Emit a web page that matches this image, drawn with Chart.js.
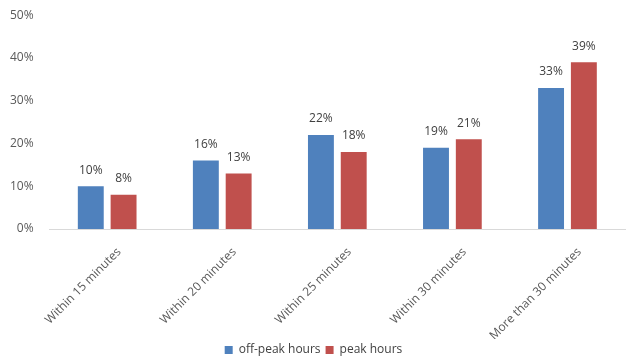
<!DOCTYPE html>
<html><head><meta charset="utf-8">
<script src="https://cdn.jsdelivr.net/npm/chart.js@4/dist/chart.umd.min.js"></script>
<style>html,body{margin:0;padding:0;background:#fff}#w{width:630px;height:358px}</style>
</head><body><div id="w"><canvas id="c"></canvas></div>
<script>
const categories = ["Within 15 minutes","Within 20 minutes","Within 25 minutes","Within 30 minutes","More than 30 minutes"];
const offPeak = [10,16,22,19,33];
const peak = [8,13,18,21,39];
const seriesNames = ["off-peak hours","peak hours"];
const yTicks = [0,10,20,30,40,50];

const labelsPlugin = {
  id:'vals',
  afterDatasetsDraw(chart){
    const ctx = chart.ctx;
    ctx.save();
    ctx.font = '12px "Open Sans", sans-serif';
    ctx.fillStyle = '#404040';
    ctx.textAlign = 'center';
    ctx.textBaseline = 'bottom';
    chart.data.datasets.forEach((ds,i)=>{
      chart.getDatasetMeta(i).data.forEach((bar,j)=>{
        ctx.fillText(ds.data[j]+'%', bar.x, bar.y-10);
      });
    });
    ctx.restore();
  }
};

new Chart(document.getElementById('c'),{
  type:'bar',
  data:{labels:categories,datasets:[
    {label:seriesNames[0],data:offPeak,backgroundColor:'#4F81BD',borderWidth:0},
    {label:seriesNames[1],data:peak,backgroundColor:'#C0504D',borderWidth:0}
  ]},
  options:{
    responsive:true,maintainAspectRatio:false,animation:false,
    layout:{padding:{top:8,right:5,left:2,bottom:-8}},
    categoryPercentage:0.57,barPercentage:0.79,
    plugins:{
      legend:{position:'bottom',labels:{boxWidth:8,boxHeight:8,padding:5,color:'#404040',font:{family:'"Open Sans", sans-serif',size:12}}},
      tooltip:{enabled:false}
    },
    scales:{
      y:{min:0,max:50,afterBuildTicks(s){s.ticks=yTicks.map(v=>({value:v}));},
        grid:{display:false},border:{display:false},
        ticks:{color:'#595959',padding:8,font:{family:'"Open Sans", sans-serif',size:12},callback:v=>v+'%'}},
      x:{grid:{display:false},border:{display:true,color:'#D9D9D9',width:1},
        afterFit(s){s.height=110;},
        ticks:{color:'#595959',maxRotation:45,minRotation:45,padding:8,labelOffset:12,font:{family:'"Open Sans", sans-serif',size:12}}}
    }
  },
  plugins:[labelsPlugin]
});
</script></body></html>
